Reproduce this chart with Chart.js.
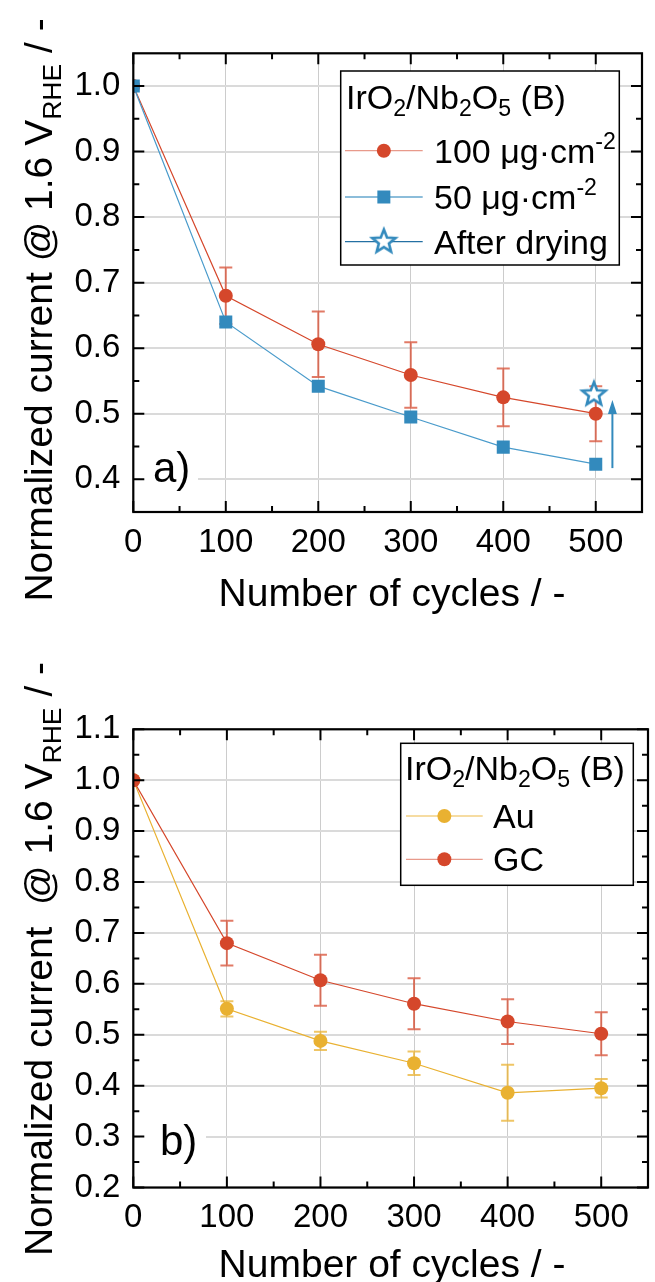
<!DOCTYPE html>
<html>
<head>
<meta charset="utf-8">
<script src="https://cdn.jsdelivr.net/npm/chart.js@4.4.1/dist/chart.umd.min.js"></script>
<style>
  body { margin: 0; background: #fff; }
  canvas { display: block; }
</style>
</head>
<body>
<canvas id="chartA" width="655" height="640"></canvas>
<canvas id="chartB" width="655" height="642"></canvas>
<script>
// data
var cycles = [0, 100, 200, 300, 400, 500];

var load100 = [1.0, 0.680, 0.606, 0.559, 0.525, 0.500];
var load100Err = [0, 0.043, 0.050, 0.050, 0.044, 0.042];
var load50 = [1.0, 0.640, 0.542, 0.495, 0.449, 0.423];
var dryX = [498];
var dryY = [0.531];
var arrowX = [518, 518];
var arrowY = [0.417, 0.521];

var au = [1.0, 0.551, 0.488, 0.444, 0.386, 0.395];
var auErr = [0, 0.015, 0.018, 0.023, 0.055, 0.018];
var gc = [1.0, 0.680, 0.607, 0.561, 0.526, 0.502];
var gcErr = [0, 0.044, 0.050, 0.050, 0.044, 0.042];

var xTicks = [0, 100, 200, 300, 400, 500];
var xMinor = [50, 150, 250, 350, 450];
var yTicksA = [0.4, 0.5, 0.6, 0.7, 0.8, 0.9, 1.0];
var yMinorA = [0.45, 0.55, 0.65, 0.75, 0.85, 0.95];
var yTicksB = [0.2, 0.3, 0.4, 0.5, 0.6, 0.7, 0.8, 0.9, 1.0, 1.1];
var yMinorB = [0.25, 0.35, 0.45, 0.55, 0.65, 0.75, 0.85, 0.95, 1.05];

var FONT = '"Liberation Sans", Arial, sans-serif';
var RED = '#d5472b', BLUE = '#338abd', YEL = '#e9b131';
var LEG = 34;

function pts(xs, ys) {
  return xs.map(function (x, i) { return { x: x, y: ys[i] }; });
}

// open star used as point style
function makeStar() {
  var c = document.createElement('canvas');
  c.width = 30; c.height = 30;
  var g = c.getContext('2d');
  g.beginPath();
  for (var i = 0; i < 10; i++) {
    var r = i % 2 ? 5.3 : 12.2;
    var a = -Math.PI / 2 + i * Math.PI / 5;
    g.lineTo(15 + r * Math.cos(a), 16 + r * Math.sin(a));
  }
  g.closePath();
  g.fillStyle = '#fff';
  g.fill();
  g.lineWidth = 2.6;
  g.strokeStyle = BLUE;
  g.stroke();
  return c;
}
var star = makeStar();

function richWidth(ctx, parts, size) {
  var w = 0;
  parts.forEach(function (p) {
    ctx.font = (p.s ? size * 0.68 : size) + 'px ' + FONT;
    w += ctx.measureText(p.t).width;
  });
  return w;
}
function drawRich(ctx, parts, x, y, size) {
  parts.forEach(function (p) {
    var fs = p.s ? size * 0.68 : size;
    var dy = p.s === 'sub' ? size * 0.22 : (p.s === 'sup' ? -size * 0.40 : 0);
    ctx.font = fs + 'px ' + FONT;
    ctx.fillText(p.t, x, y + dy);
    x += ctx.measureText(p.t).width;
  });
}

var legTitle = [{ t: 'IrO' }, { t: '2', s: 'sub' }, { t: '/Nb' }, { t: '2', s: 'sub' }, { t: 'O' }, { t: '5', s: 'sub' }, { t: ' (B)' }];

var deco = {
  id: 'deco',
  beforeDatasetsDraw: function (chart, args, o) {
    var ctx = chart.ctx, xs = chart.scales.x, ys = chart.scales.y;
    ctx.save();
    // panel label on a white patch
    ctx.fillStyle = '#fff';
    ctx.fillRect(o.label.box[0], o.label.box[1], o.label.box[2], o.label.box[3]);
    ctx.fillStyle = '#000';
    ctx.font = '42px ' + FONT;
    ctx.fillText(o.label.text, o.label.x, o.label.y);
    // error bars
    o.errors.forEach(function (e) {
      ctx.strokeStyle = e.color;
      ctx.lineWidth = 2;
      e.y.forEach(function (v, i) {
        if (!e.err[i]) return;
        var px = xs.getPixelForValue(e.x[i]);
        var t = ys.getPixelForValue(v + e.err[i]);
        var b = ys.getPixelForValue(v - e.err[i]);
        ctx.beginPath();
        ctx.moveTo(px, t); ctx.lineTo(px, b);
        ctx.moveTo(px - 6.5, t); ctx.lineTo(px + 6.5, t);
        ctx.moveTo(px - 6.5, b); ctx.lineTo(px + 6.5, b);
        ctx.stroke();
      });
    });
    ctx.restore();
  },
  afterDraw: function (chart, args, o) {
    var ctx = chart.ctx, xs = chart.scales.x, ys = chart.scales.y, ca = chart.chartArea;
    ctx.save();
    // arrow
    if (o.arrow) {
      var ax = xs.getPixelForValue(o.arrow.x[0]);
      var y0 = ys.getPixelForValue(o.arrow.y[0]);
      var y1 = ys.getPixelForValue(o.arrow.y[1]);
      ctx.strokeStyle = BLUE; ctx.fillStyle = BLUE; ctx.lineWidth = 2;
      ctx.beginPath(); ctx.moveTo(ax, y0); ctx.lineTo(ax, y1 + 10); ctx.stroke();
      ctx.beginPath(); ctx.moveTo(ax, y1); ctx.lineTo(ax - 4.5, y1 + 14); ctx.lineTo(ax + 4.5, y1 + 14); ctx.closePath(); ctx.fill();
    }
    // frame and inward ticks
    ctx.strokeStyle = '#000';
    ctx.lineWidth = 2.2;
    ctx.strokeRect(ca.left, ca.top, ca.right - ca.left, ca.bottom - ca.top);
    ctx.lineWidth = 2;
    function xt(list, len) {
      list.forEach(function (v) {
        var p = xs.getPixelForValue(v);
        ctx.beginPath();
        ctx.moveTo(p, ca.bottom); ctx.lineTo(p, ca.bottom - len);
        ctx.moveTo(p, ca.top); ctx.lineTo(p, ca.top + len);
        ctx.stroke();
      });
    }
    function yt(list, len) {
      list.forEach(function (v) {
        var p = ys.getPixelForValue(v);
        ctx.beginPath();
        ctx.moveTo(ca.left, p); ctx.lineTo(ca.left + len, p);
        ctx.moveTo(ca.right, p); ctx.lineTo(ca.right - len, p);
        ctx.stroke();
      });
    }
    xt(xTicks, 11); xt(xMinor, 6);
    yt(o.yMajor, 11); yt(o.yMinor, 6);

    // legend
    var L = o.legend;
    ctx.fillStyle = '#fff';
    ctx.fillRect(L.box[0], L.box[1], L.box[2], L.box[3]);
    ctx.strokeStyle = '#000';
    ctx.lineWidth = 1.5;
    ctx.strokeRect(L.box[0], L.box[1], L.box[2], L.box[3]);
    ctx.fillStyle = '#000';
    drawRich(ctx, legTitle, L.titleX, L.titleY, LEG);
    L.rows.forEach(function (r) {
      ctx.strokeStyle = r.line;
      ctx.lineWidth = 1.3;
      ctx.beginPath(); ctx.moveTo(L.lineX[0], r.y); ctx.lineTo(L.lineX[1], r.y); ctx.stroke();
      var mx = (L.lineX[0] + L.lineX[1]) / 2;
      ctx.fillStyle = r.color;
      if (r.marker === 'circle') {
        ctx.beginPath(); ctx.arc(mx, r.y, 7, 0, Math.PI * 2); ctx.fill();
      } else if (r.marker === 'rect') {
        ctx.fillRect(mx - 6.5, r.y - 6.5, 13, 13);
      } else {
        ctx.drawImage(star, mx - 15, r.y - 16);
      }
      ctx.fillStyle = '#000';
      drawRich(ctx, r.text, L.textX, r.y + 12, LEG);
    });

    // axis titles
    ctx.fillStyle = '#000';
    var yw = richWidth(ctx, o.yTitle, 39);
    ctx.translate(o.yTitlePos[0], o.yTitlePos[1]);
    ctx.rotate(-Math.PI / 2);
    drawRich(ctx, o.yTitle, -yw / 2, 0, 39);
    ctx.setTransform(1, 0, 0, 1, 0, 0);
    ctx.font = '39px ' + FONT;
    ctx.textAlign = 'center';
    ctx.fillText('Number of cycles / -', o.xTitlePos[0], o.xTitlePos[1]);
    ctx.restore();
  }
};

function scalesFor(yMin, yMax, yTicks, xAxisHeight) {
  return {
    x: {
      type: 'linear', min: 0, max: 550,
      afterBuildTicks: function (s) { s.ticks = xTicks.map(function (v) { return { value: v }; }); },
      afterFit: function (s) { s.height = xAxisHeight; },
      grid: { color: '#cccccc', lineWidth: 1, drawTicks: false },
      border: { display: false },
      ticks: { color: '#000', padding: 11, font: { family: FONT, size: 33 }, maxRotation: 0,
               callback: function (v) { return String(v); } }
    },
    y: {
      type: 'linear', min: yMin, max: yMax,
      afterBuildTicks: function (s) { s.ticks = yTicks.map(function (v) { return { value: v }; }); },
      afterFit: function (s) { s.width = 133.3; },
      grid: { color: '#dadada', lineWidth: 2, drawTicks: false },
      border: { display: false },
      ticks: { color: '#000', padding: 13, font: { family: FONT, size: 33 },
               callback: function (v) { return Number(v).toFixed(1); } }
    }
  };
}

var common = {
  responsive: false, animation: false, devicePixelRatio: 1,
  events: []
};

new Chart(document.getElementById('chartA').getContext('2d'), {
  type: 'scatter',
  data: {
    datasets: [
      { label: 'After drying', data: pts(dryX, dryY), pointStyle: star, pointRadius: 12, showLine: false },
      { label: '50 µg·cm-2', data: pts(cycles, load50), showLine: true, borderColor: '#4a9bcb', borderWidth: 1.2,
        backgroundColor: BLUE, pointStyle: 'rect', pointRadius: 9.2, pointBorderWidth: 0 },
      { label: '100 µg·cm-2', data: pts(cycles, load100), showLine: true, borderColor: RED, borderWidth: 1.2,
        backgroundColor: RED, pointStyle: 'circle', pointRadius: 7, pointBorderWidth: 0 }
    ]
  },
  options: Object.assign({}, common, {
    layout: { padding: { top: 53.3, right: 4, left: 0, bottom: 0 } },
    scales: scalesFor(0.35, 1.05, yTicksA, 128),
    plugins: {
      legend: { display: false }, tooltip: { enabled: false },
      deco: {
        yMajor: yTicksA, yMinor: yMinorA,
        errors: [{ x: cycles, y: load100, err: load100Err, color: 'rgba(213,71,43,0.72)' }],
        arrow: { x: arrowX, y: arrowY },
        label: { text: 'a)', x: 153, y: 482, box: [140, 446, 58, 52] },
        legend: {
          box: [340.7, 71, 278.6, 194], titleX: 346, titleY: 109,
          lineX: [345, 422.7], textX: 434,
          rows: [
            { marker: 'circle', color: RED, line: 'rgba(213,71,43,0.55)', y: 150.7,
              text: [{ t: '100 μg·cm' }, { t: '-2', s: 'sup' }] },
            { marker: 'rect', color: BLUE, line: 'rgba(51,138,189,0.75)', y: 197,
              text: [{ t: '50 μg·cm' }, { t: '-2', s: 'sup' }] },
            { marker: 'star', color: BLUE, line: '#2470a3', y: 241.7,
              text: [{ t: 'After drying' }] }
          ]
        },
        yTitle: [{ t: 'Normalized current @ 1.6 V' }, { t: 'RHE', s: 'sub' }, { t: ' / -' }],
        yTitlePos: [52, 310],
        xTitlePos: [392, 606]
      }
    }
  }),
  plugins: [deco]
});

new Chart(document.getElementById('chartB').getContext('2d'), {
  type: 'scatter',
  data: {
    datasets: [
      { label: 'GC', data: pts(cycles, gc), showLine: true, borderColor: RED, borderWidth: 1.2,
        backgroundColor: RED, pointStyle: 'circle', pointRadius: 7, pointBorderWidth: 0 },
      { label: 'Au', data: pts(cycles, au), showLine: true, borderColor: YEL, borderWidth: 1.2,
        backgroundColor: YEL, pointStyle: 'circle', pointRadius: 7, pointBorderWidth: 0 }
    ]
  },
  options: Object.assign({}, common, {
    layout: { padding: { top: 89.3, right: 4, left: 0, bottom: 0 } },
    scales: scalesFor(0.2, 1.1, yTicksB, 94.5),
    plugins: {
      legend: { display: false }, tooltip: { enabled: false },
      deco: {
        yMajor: yTicksB, yMinor: yMinorB,
        errors: [
          { x: cycles, y: au, err: auErr, color: 'rgba(233,177,49,0.75)' },
          { x: cycles, y: gc, err: gcErr, color: 'rgba(213,71,43,0.72)' }
        ],
        arrow: null,
        label: { text: 'b)', x: 160, y: 515, box: [140, 476, 66, 52] },
        legend: {
          box: [400.7, 103.3, 232.6, 142], titleX: 405, titleY: 140,
          lineX: [406, 482.7], textX: 493,
          rows: [
            { marker: 'circle', color: YEL, line: 'rgba(233,177,49,0.6)', y: 176, text: [{ t: 'Au' }] },
            { marker: 'circle', color: RED, line: 'rgba(213,71,43,0.55)', y: 219.3, text: [{ t: 'GC' }] }
          ]
        },
        yTitle: [{ t: 'Normalized current  @ 1.6 V' }, { t: 'RHE', s: 'sub' }, { t: ' / -' }],
        yTitlePos: [52, 319],
        xTitlePos: [392, 637]
      }
    }
  }),
  plugins: [deco]
});
</script>
</body>
</html>
